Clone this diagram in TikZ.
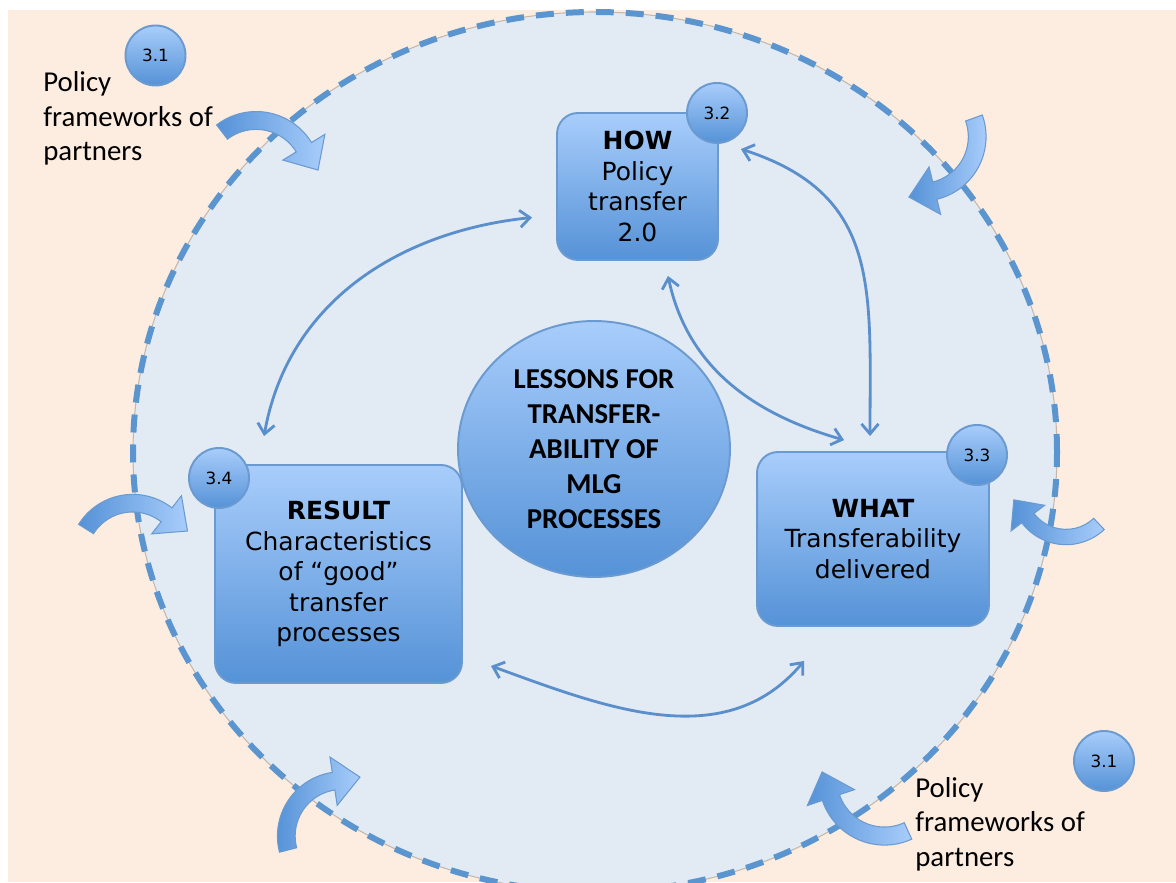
\documentclass[tikz,border=0pt]{standalone}
\usepackage{fontspec}
\setmainfont{DejaVu Sans}
\newfontfamily\calibri{Carlito}
\usetikzlibrary{arrows.meta,shapes.geometric}

\definecolor{peach}{HTML}{FDEDE0}
\definecolor{pale}{HTML}{E2EAF4}
\definecolor{rim}{HTML}{5B95CF}
\definecolor{rimshade}{HTML}{C4B8AC}
\definecolor{boxtop}{HTML}{A8CDFB}
\definecolor{boxbot}{HTML}{5592D7}
\definecolor{boxedge}{HTML}{6A9AD0}
\definecolor{linkblue}{HTML}{5B8FCC}

\newcommand{\bentarrow}[3]{%
	\begin{scope}[shift={#1}, rotate=#2, scale=#3]
		\path[draw=boxedge, line width=0.6pt, left color=boxbot, right color=boxtop, shift={(37.2,-33.5)}]
			(138:42) arc[start angle=138, end angle=42, radius=42] -- (42:28) -- (53.3,15.7)
			-- (42:72) -- (42:58) arc[start angle=42, end angle=138, radius=58] -- cycle;
	\end{scope}}

\begin{document}
\begin{tikzpicture}[x=0.02cm, y=0.02cm,
	box/.style={draw=boxedge, line width=1.1pt, rounded corners=0.42cm, top color=boxtop, bottom color=boxbot,
		align=center, inner sep=0pt, font=\fontsize{14.2}{17.3}\selectfont},
	badge/.style={circle, draw=boxedge, line width=1.1pt, top color=boxtop, bottom color=boxbot,
		minimum size=1.2cm, inner sep=0pt, font=\fontsize{9.6}{11}\selectfont},
	hub/.style={ellipse, draw=boxedge, line width=1.1pt, top color=boxtop, bottom color=boxbot,
		minimum width=5.44cm, minimum height=5.12cm, inner sep=0pt, align=center,
		font=\calibri\bfseries\fontsize{16.4}{19.9}\selectfont},
	note/.style={anchor=west, align=left, inner sep=0pt, font=\calibri\fontsize{16.4}{19.6}\selectfont},
	link/.style={draw=linkblue, line width=1.6pt, {Straight Barb[length=0.2cm, width=0.34cm]}-{Straight Barb[length=0.2cm, width=0.34cm]}}]

	\useasboundingbox (0,0) rectangle (1176,882);
	\clip (0,0) rectangle (1176,882);
	\fill[peach] (8,0) rectangle (1176,872);

	\fill[pale] (595,430) ellipse [x radius=462, y radius=440];
	\draw[rimshade, line width=0.6pt] (595,430) ellipse [x radius=462, y radius=440];
	\draw[rim, line width=0.12cm, dash pattern=on 0.36cm off 0.24cm] (595,430) ellipse [x radius=462, y radius=440];

	\bentarrow{(222,750)}{-10.5}{1.12}
	\bentarrow{(974,764)}{-118.3}{1.11}
	\bentarrow{(1099,358)}{175.3}{0.96}
	\bentarrow{(86,353)}{10}{1.1}
	\bentarrow{(288,32)}{56.5}{1.11}
	\bentarrow{(908,51)}{156.6}{1.13}

	\node[box, minimum width=3.22cm, minimum height=2.94cm] (how) at (637.5,695.5) {\textbf{HOW}\\Policy\\transfer\\2.0};
	\node[box, minimum width=4.64cm, minimum height=3.48cm] (what) at (873,343) {\textbf{WHAT}\\Transferability\\delivered};
	\node[box, minimum width=4.94cm, minimum height=4.36cm] (result) at (338.5,308) {\textbf{RESULT}\\Characteristics\\of “good”\\transfer\\processes};
	\node[hub] (lessons) at (594,433) {LESSONS FOR\\TRANSFER-\\ABILITY OF\\MLG\\PROCESSES};

	\node[badge] (n32) at (717,769) {3.2};
	\node[badge] (n33) at (977,427) {3.3};
	\node[badge] (n34) at (219,404) {3.4};
	\node[badge] (n31a) at (155.5,826.5) {3.1};
	\node[badge] (n31b) at (1104,121) {3.1};

	\node[note] (policya) at (43,763.5) {Policy\\frameworks of\\partners};
	\node[note] (policyb) at (915,58) {Policy\\frameworks of\\partners};

	\draw[link] ([shift={(50,28)}]result.north west) to[out=80, in=186] ([shift={(-24,-31)}]how.west);
	\draw[link] ([shift={(22,-37)}]how.north east) to[out=-18, in=90, looseness=1.2] ([shift={(-3,15)}]what.north);
	\draw[link] ([shift={(30.5,-15)}]how.south) to[out=-78, in=164] ([shift={(88,11)}]what.north west);
	\draw[link] ([shift={(28,18)}]result.south east) to[out=-20, in=230] ([shift={(48,-34)}]what.south west);

\end{tikzpicture}
\end{document}
